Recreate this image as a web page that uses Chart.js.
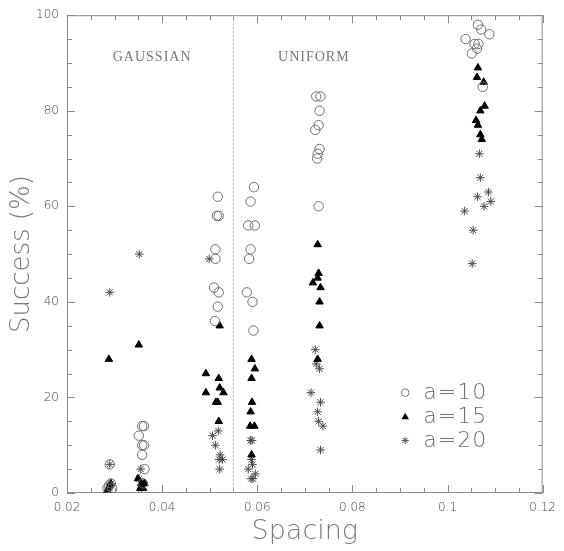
<!DOCTYPE html>
<html>
<head>
<meta charset="utf-8">
<title>Success vs Spacing</title>
<script src="https://cdn.jsdelivr.net/npm/chart.js@4.4.1/dist/chart.umd.min.js"></script>
<style>
  html, body { margin: 0; padding: 0; background: #fff; }
  #wrap { width: 564px; height: 551px; }
</style>
</head>
<body>
<div id="wrap"><canvas id="chart"></canvas></div>
<script>
// a=10 (open circles)
const a10X = [0.0290, 0.0285, 0.0292, 0.0288, 0.0295,
  0.0358, 0.0362, 0.0351, 0.0358, 0.0362, 0.0358, 0.0363, 0.0360,
  0.0517, 0.0515, 0.0519, 0.0512, 0.0512, 0.0509, 0.0519, 0.0517, 0.0511,
  0.0593, 0.0586, 0.0581, 0.0595, 0.0586, 0.0583, 0.0578, 0.0590, 0.0592,
  0.0724, 0.0733, 0.0731, 0.0729, 0.0722, 0.0731, 0.0727, 0.0726, 0.0729,
  0.1064, 0.1071, 0.1088, 0.1038, 0.1057, 0.1065, 0.1062, 0.1051, 0.1074];
const a10Y = [6, 1, 2, 1.5, 1,
  14, 14, 12, 10, 10, 8, 5, 2,
  62, 58, 58, 51, 49, 43, 42, 39, 36,
  64, 61, 56, 56, 51, 49, 42, 40, 34,
  83, 83, 80, 77, 76, 72, 71, 70, 60,
  98, 97, 96, 95, 94, 94, 93, 92, 85];

// a=15 (filled triangles)
const a15X = [0.0288, 0.0287, 0.0292, 0.0285, 0.0290,
  0.0351, 0.0349, 0.0356, 0.0360, 0.0363, 0.0354,
  0.0521, 0.0492, 0.0519, 0.0521, 0.0492, 0.0529, 0.0513, 0.0517, 0.0519,
  0.0588, 0.0595, 0.0588, 0.0589, 0.0586, 0.0585, 0.0594, 0.0588,
  0.0727, 0.0729, 0.0727, 0.0717, 0.0733, 0.0731, 0.0731, 0.0727,
  0.1064, 0.1062, 0.1076, 0.1078, 0.1069, 0.1060, 0.1064, 0.1069, 0.1072];
const a15Y = [28, 1, 2, 0.5, 1.5,
  31, 3, 2, 1, 2, 1,
  35, 25, 24, 22, 21, 21, 19, 19, 15,
  28, 26, 24, 19, 17, 14, 14, 8,
  52, 46, 45, 44, 43, 40, 35, 28,
  89, 87, 86, 81, 80, 78, 77, 75, 74];

// a=20 (asterisks)
const a20X = [0.0290, 0.0290, 0.0288, 0.0293,
  0.0352, 0.0355, 0.0352, 0.0357, 0.0360,
  0.0499, 0.0518, 0.0506, 0.0512, 0.0522, 0.0520, 0.0527, 0.0521,
  0.0586, 0.0589, 0.0588, 0.0590, 0.0581, 0.0596, 0.0587, 0.0591,
  0.0722, 0.0724, 0.0731, 0.0713, 0.0733, 0.0727, 0.0729, 0.0738, 0.0733,
  0.1067, 0.1069, 0.1086, 0.1063, 0.1091, 0.1077, 0.1036, 0.1054, 0.1052];
const a20Y = [42, 6, 1, 2,
  50, 5, 3, 1, 2,
  49, 13, 12, 10, 8, 7, 7, 5,
  11, 11, 7, 6, 5, 4, 3, 3,
  30, 27, 26, 21, 19, 17, 15, 14, 9,
  71, 66, 63, 62, 61, 60, 59, 55, 48];

const seriesLabels = ["a=10", "a=15", "a=20"];
const regionLabels = ["GAUSSIAN", "UNIFORM"];
const regionLabelX = [0.0379, 0.0719];
const dividerX = 0.055;

function toPoints(xs, ys) {
  return xs.map((x, i) => ({ x: x, y: ys[i] }));
}

function fmtX(v) {
  return String(parseFloat(Number(v).toFixed(3)));
}

/** 테두리, 안쪽 눈금, 점선, 범례, 영역 이름 */
const framePlugin = {
  id: "frame",
  beforeDraw(chart) {
    const ctx = chart.ctx;
    ctx.save();
    ctx.fillStyle = "#fff";
    ctx.fillRect(0, 0, chart.width, chart.height);
    ctx.restore();
  },
  beforeDatasetsDraw(chart) {
    const { ctx, chartArea: ca } = chart;
    const xs = chart.scales.x;
    const ys = chart.scales.y;
    ctx.save();
    ctx.strokeStyle = "#8a8a8a";
    ctx.lineWidth = 1;
    ctx.strokeRect(ca.left + 0.5, ca.top + 0.5, ca.right - ca.left - 1, ca.bottom - ca.top - 1);

    ctx.beginPath();
    for (let v = 0; v <= 100.01; v += 5) {
      const py = Math.round(ys.getPixelForValue(v)) + 0.5;
      const len = v % 20 === 0 ? 8 : 5;
      ctx.moveTo(ca.left, py); ctx.lineTo(ca.left + len, py);
      ctx.moveTo(ca.right, py); ctx.lineTo(ca.right - len, py);
    }
    for (let i = 0; i <= 20; i++) {
      const v = 0.02 + i * 0.005;
      const px = Math.round(xs.getPixelForValue(v)) + 0.5;
      const len = i % 4 === 0 ? 8 : 5;
      ctx.moveTo(px, ca.bottom); ctx.lineTo(px, ca.bottom - len);
      ctx.moveTo(px, ca.top); ctx.lineTo(px, ca.top + len);
    }
    ctx.stroke();

    // GAUSSIAN / UNIFORM 경계
    const dx = Math.round(xs.getPixelForValue(dividerX)) + 0.5;
    ctx.strokeStyle = "#aaa";
    ctx.setLineDash([2, 2]);
    ctx.beginPath();
    ctx.moveTo(dx, ca.top); ctx.lineTo(dx, ca.bottom);
    ctx.stroke();
    ctx.restore();
  },
  afterDraw(chart) {
    const { ctx } = chart;
    const xs = chart.scales.x;
    const ys = chart.scales.y;
    ctx.save();

    ctx.fillStyle = "#777";
    ctx.font = "14px 'Liberation Serif'";
    ctx.textAlign = "center";
    ctx.textBaseline = "middle";
    ctx.letterSpacing = "1px";
    regionLabels.forEach((t, i) => {
      ctx.fillText(t, xs.getPixelForValue(regionLabelX[i]), ys.getPixelForValue(91.2));
    });

    // 범례
    const lx = xs.getPixelForValue(0.0911);
    const tx = xs.getPixelForValue(0.0949);
    const rows = [21, 16, 11];
    ctx.letterSpacing = "1px";
    ctx.font = "300 22px 'DejaVu Sans'";
    ctx.textAlign = "left";
    rows.forEach((val, i) => {
      const py = ys.getPixelForValue(val);
      ctx.lineWidth = 1;
      if (i === 0) {
        ctx.strokeStyle = "#777";
        ctx.beginPath();
        ctx.arc(lx, py, 3.8, 0, Math.PI * 2);
        ctx.stroke();
      } else if (i === 1) {
        ctx.fillStyle = "#000";
        ctx.beginPath();
        ctx.moveTo(lx, py - 3.8);
        ctx.lineTo(lx + 3.8, py + 2.7);
        ctx.lineTo(lx - 3.8, py + 2.7);
        ctx.closePath();
        ctx.fill();
      } else {
        ctx.strokeStyle = "#555";
        ctx.beginPath();
        for (let k = 0; k < 4; k++) {
          const a = k * Math.PI / 4;
          ctx.moveTo(lx - 3.6 * Math.cos(a), py - 3.6 * Math.sin(a));
          ctx.lineTo(lx + 3.6 * Math.cos(a), py + 3.6 * Math.sin(a));
        }
        ctx.stroke();
      }
      ctx.fillStyle = "#707070";
      ctx.fillText(seriesLabels[i], tx, py + 1);
    });
    ctx.restore();
  },
};

const ctx = document.getElementById("chart").getContext("2d");
new Chart(ctx, {
  type: "scatter",
  data: {
    datasets: [
      {
        label: seriesLabels[0],
        data: toPoints(a10X, a10Y),
        pointStyle: "circle",
        pointRadius: 4.7,
        borderColor: "#707070",
        backgroundColor: "rgba(0,0,0,0)",
        borderWidth: 1,
      },
      {
        label: seriesLabels[1],
        data: toPoints(a15X, a15Y),
        pointStyle: "triangle",
        pointRadius: 4.3,
        borderColor: "#000",
        backgroundColor: "#000",
        borderWidth: 1,
      },
      {
        label: seriesLabels[2],
        data: toPoints(a20X, a20Y),
        pointStyle: "star",
        pointRadius: 4.3,
        borderColor: "#4a4a4a",
        backgroundColor: "#4a4a4a",
        borderWidth: 1,
      },
    ],
  },
  options: {
    responsive: true,
    maintainAspectRatio: false,
    animation: false,
    events: [],
    layout: { padding: { top: 13, right: 17, left: 0, bottom: 0 } },
    plugins: {
      legend: { display: false },
      tooltip: { enabled: false },
    },
    scales: {
      x: {
        type: "linear",
        min: 0.02,
        max: 0.12,
        afterFit: (s) => { s.height = 58; },
        grid: { display: false, drawTicks: false },
        border: { display: false },
        ticks: {
          stepSize: 0.02,
          padding: 8,
          color: "#444",
          font: { family: "DejaVu Sans", size: 12, weight: 300 },
          callback: (v) => fmtX(v),
        },
        title: {
          display: true,
          text: "Spacing",
          color: "#7a7a7a",
          font: { family: "DejaVu Sans", size: 27, weight: 300 },
          padding: { top: 0, bottom: 3 },
        },
      },
      y: {
        type: "linear",
        min: 0,
        max: 100,
        afterFit: (s) => { s.width = 67; },
        grid: { display: false, drawTicks: false },
        border: { display: false },
        ticks: {
          stepSize: 20,
          padding: 8,
          color: "#444",
          font: { family: "DejaVu Sans", size: 12, weight: 300 },
        },
        title: {
          display: true,
          text: "Success (%)",
          color: "#7a7a7a",
          font: { family: "DejaVu Sans", size: 26, weight: 300 },
          padding: { top: 7, bottom: 0 },
        },
      },
    },
  },
  plugins: [framePlugin],
});
</script>
</body>
</html>
